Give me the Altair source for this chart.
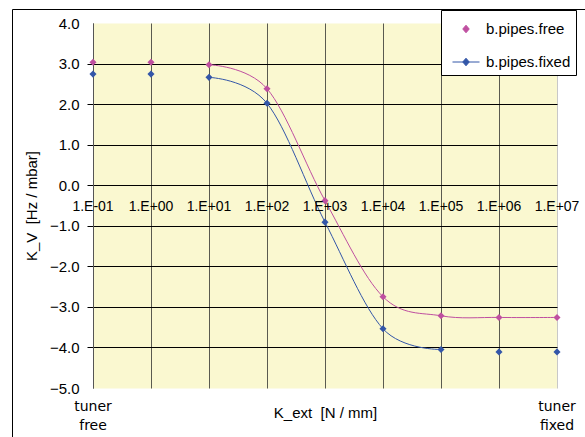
import altair as alt
import pandas as pd

# ---- data ----
k_ext = [0.1, 1, 10, 100, 1000, 1e4, 1e5, 1e6, 1e7]
kv_free = [3.03, 3.03, 2.97, 2.38, -0.38, -2.75, -3.22, -3.26, -3.26]
kv_fixed = [2.74, 2.74, 2.66, 2.02, -0.91, -3.54, -4.05, -4.11, -4.11]
series_names = ["b.pipes.free", "b.pipes.fixed"]
series_colors = ["#BF4FA0", "#3356A8"]
x_tick_labels = ["1.E-01", "1.E+00", "1.E+01", "1.E+02", "1.E+03",
                 "1.E+04", "1.E+05", "1.E+06", "1.E+07"]
y_ticks = [-5, -4, -3, -2, -1, 0, 1, 2, 3, 4]
end_labels = ["tuner\nfree", "tuner\nfixed"]
end_positions = [0.1, 1e7]

n = len(k_ext)
df = pd.DataFrame({
    "k_ext": k_ext + k_ext,
    "kv": kv_free + kv_fixed,
    "series": [series_names[0]] * n + [series_names[1]] * n,
    "clr": [series_colors[0]] * n + [series_colors[1]] * n,
})
df_ticks = pd.DataFrame({"k_ext": k_ext, "kv": [0] * n, "label": x_tick_labels})
df_ends = pd.DataFrame({"k_ext": end_positions, "kv": [-5, -5], "label": end_labels})
df_one = pd.DataFrame({"a": [0]})

FONT = "Liberation Sans"

x_scale = alt.Scale(type="log", domain=[0.1, 1e7], nice=False)
y_scale = alt.Scale(domain=[-5, 4], nice=False, zero=False)

x_axis = alt.Axis(
    values=k_ext, labels=False, ticks=False, domain=False, grid=True,
    gridColor={"condition": {"test": "datum.value >= 10000000", "value": "#c8c8c8"},
               "value": "#5a5a50"},
    gridWidth=1,
    title="K_ext\u00a0\u00a0[N / mm]", titleFont=FONT, titleFontSize=15,
    titleFontWeight="normal", titleColor="black", titlePadding=17,
)
y_axis = alt.Axis(
    values=y_ticks, format=".1f", grid=True,
    gridColor={"condition": {"test": "datum.value >= 4 || datum.value <= -5", "value": "transparent"},
               "value": "black"},
    gridWidth=1,
    tickColor={"condition": {"test": "datum.value >= 4 || datum.value <= -5", "value": "transparent"},
               "value": "black"},
    tickSize=6, domainColor="#555555", labelFont=FONT, labelFontSize=15,
    labelColor="black", labelPadding=8,
    title="K_V\u00a0\u00a0[Hz / mbar]", titleFont=FONT, titleFontSize=15,
    titleFontWeight="normal", titleColor="black", titlePadding=10,
)

X = alt.X("k_ext:Q", scale=x_scale, axis=x_axis)
Y = alt.Y("kv:Q", scale=y_scale, axis=y_axis)
C = alt.Color("clr:N", scale=None)

border = alt.Chart(df_one).mark_rect(fillOpacity=0, stroke="black", strokeWidth=1).encode(
    x=alt.value(-80.5), x2=alt.value(500), y=alt.value(-13.5), y2=alt.value(422.5)
)

lines = alt.Chart(df).transform_filter(
    "datum.k_ext >= 10 && (datum.series == 'b.pipes.free' || datum.k_ext <= 100000)"
).mark_line(interpolate="cardinal", strokeWidth=1).encode(x=X, y=Y, color=C, detail="series:N")

points = alt.Chart(df).mark_point(shape="diamond", filled=True, size=50, opacity=1).encode(
    x=X, y=Y, color=C
)

tick_text = alt.Chart(df_ticks).mark_text(
    font=FONT, fontSize=14, color="black", baseline="middle", align="center", dy=22
).encode(x=X, y=Y, text="label:N")

end_text = alt.Chart(df_ends).mark_text(
    font="DejaVu Sans", fontSize=14, color="black", baseline="top", align="center",
    dy=12, lineBreak="\n", lineHeight=19
).encode(x=X, y=Y, text="label:N")

path_free = "M0,-0.28L0.24,0L0,0.28L-0.24,0Z"
path_fixed = "M-1,0L1,0M0,-0.28L0.24,0L0,0.28L-0.24,0Z"
leg = alt.Legend(
    title=None, orient="none", legendX=348, legendY=-13,
    fillColor="white", strokeColor="black", padding=5, rowPadding=11,
    symbolSize=729, symbolOffset=6, symbolStrokeWidth=1, symbolOpacity=1,
    labelFont=FONT, labelFontSize=15, labelColor="black", labelOffset=6,
)
# layer without marks that only carries the legend
legend_layer = alt.Chart(df).transform_filter("false").mark_point(filled=True).encode(
    x=X, y=Y,
    fill=alt.Fill("series:N", scale=alt.Scale(domain=series_names, range=series_colors), legend=leg),
    stroke=alt.Stroke("series:N", scale=alt.Scale(domain=series_names, range=series_colors), legend=leg),
    shape=alt.Shape("series:N", scale=alt.Scale(domain=series_names, range=[path_free, path_fixed]), legend=leg),
)

chart = alt.layer(border, lines, points, tick_text, end_text, legend_layer).properties(
    width=464, height=365,
    autosize=alt.AutoSizeParams(type="none"),
    padding={"left": 93, "top": 23, "right": 28, "bottom": 49},
    background="white",
).configure_view(fill="#FAF8D0", stroke="transparent")

chart.save("out.html", embed_options={"renderer": "svg", "actions": False})
